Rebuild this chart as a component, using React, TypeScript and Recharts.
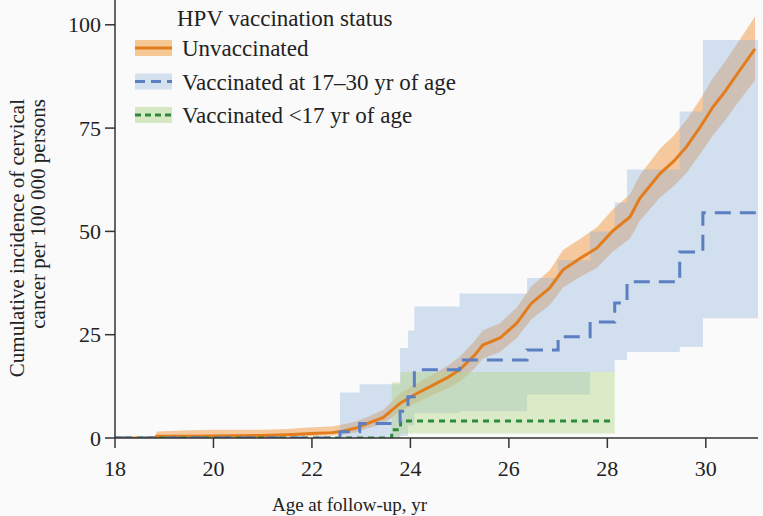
import React from 'react';
import { ComposedChart, Line, Area, XAxis, YAxis, Legend } from 'recharts';

const FONT = '"Liberation Serif", "DejaVu Serif", serif';

// Axis ticks
const xTicks = [18, 20, 22, 24, 26, 28, 30];
const yTicks = [0, 25, 50, 75, 100];

// Unvaccinated: cumulative incidence and 95% CI
const unvacAge = [18.0, 18.8, 18.85, 19.5, 20.0, 20.5, 21.0, 21.5, 22.0, 22.4, 22.6, 22.9, 23.15, 23.45, 23.8, 24.1, 24.46, 24.75, 25.0, 25.3, 25.47, 25.82, 26.16, 26.45, 26.83, 27.1, 27.45, 27.79, 28.1, 28.46, 28.66, 29.07, 29.35, 29.61, 29.9, 30.14, 30.4, 30.69, 31.0];
const unvacCum = [0, 0, 0.4, 0.45, 0.5, 0.55, 0.6, 0.8, 1.1, 1.3, 1.6, 2.4, 3.6, 5.0, 8.5, 10.6, 12.8, 14.6, 16.5, 20.0, 22.5, 24.2, 27.8, 32.5, 36.3, 40.7, 43.5, 46.0, 50.0, 53.5, 58.0, 64.0, 67.0, 70.5, 75.5, 80.0, 84.0, 89.0, 94.2];
const unvacLow = [0, 0, 0.05, 0.1, 0.1, 0.15, 0.2, 0.3, 0.5, 0.6, 0.8, 1.4, 2.4, 3.4, 6.5, 8.4, 10.4, 12.0, 13.6, 16.8, 19.2, 20.8, 24.2, 28.6, 32.2, 36.4, 39.0, 41.2, 45.0, 48.3, 52.6, 58.2, 61.0, 64.2, 69.0, 73.2, 77.0, 81.8, 86.6];
const unvacHigh = [0, 0, 1.6, 1.9, 2.0, 2.0, 2.0, 2.2, 2.6, 2.8, 3.2, 4.0, 5.2, 6.8, 10.8, 13.0, 15.4, 17.4, 19.6, 23.4, 26.0, 27.8, 31.6, 36.6, 40.6, 45.5, 48.2, 51.0, 55.2, 59.0, 63.6, 70.0, 73.2, 77.0, 82.2, 87.0, 91.2, 96.4, 102.0];

// Vaccinated at 17-30 yr of age
const adultAge = [18.0, 22.57, 22.97, 23.79, 23.95, 24.08, 25.0, 26.37, 27.0, 27.65, 28.15, 28.4, 29.47, 29.94, 31.06];
const adultCum = [0, 1.5, 3.5, 6.5, 10.0, 16.5, 18.9, 21.3, 24.5, 28.1, 32.7, 37.8, 45.0, 54.5, 54.5];
const adultBandAge = [22.57, 22.97, 23.79, 23.95, 24.08, 25.0, 26.37, 27.0, 27.65, 28.15, 28.4, 29.47, 29.94, 31.06];
const adultLow = [0, 0, 0.5, 3.0, 6.0, 6.5, 10.5, 10.5, 16.0, 18.9, 20.8, 22.0, 29.0, 29.0];
const adultHigh = [11.0, 13.0, 21.8, 26.0, 31.8, 35.0, 38.7, 43.0, 50.0, 57.0, 65.0, 79.0, 96.3, 96.3];

// Vaccinated <17 yr of age
const teenAge = [18.0, 23.62, 23.8, 28.15];
const teenCum = [0, 2.0, 4.1, 4.1];
const teenBandAge = [23.62, 23.8, 28.15];
const teenLow = [0.3, 1.1, 1.1];
const teenHigh = [13.5, 16.0, 16.0];

const legendTitle = 'HPV vaccination status';
const seriesNames = ['Unvaccinated', 'Vaccinated at 17\u201330 yr of age', 'Vaccinated <17 yr of age'];

const ORANGE = '#e27c1c';
const BLUE = '#5b7fc2';
const GREEN = '#2b8a3c';
const ORANGE_BAND = '#f0a050';
const BLUE_BAND = '#8fb3d9';
const GREEN_BAND = '#b5d68a';
const TEXT = '#222';

const unvacData = unvacAge.map((a, i) => ({ age: a, cum: unvacCum[i], band: [unvacLow[i], unvacHigh[i]] }));
const adultLine = adultAge.map((a, i) => ({ age: a, cum: adultCum[i] }));
const adultBand = adultBandAge.map((a, i) => ({ age: a, band: [adultLow[i], adultHigh[i]] }));
const teenLine = teenAge.map((a, i) => ({ age: a, cum: teenCum[i] }));
const teenBand = teenBandAge.map((a, i) => ({ age: a, band: [teenLow[i], teenHigh[i]] }));

const legendItems = [
  { name: seriesNames[0], color: ORANGE, band: '#f5c894', dash: undefined },
  { name: seriesNames[1], color: BLUE, band: '#d3e1ef', dash: '10 6' },
  { name: seriesNames[2], color: GREEN, band: '#d6e8c2', dash: '6 4' },
];

const LegendContent = () => (
  <svg width={330} height={132} style={{ display: 'block' }}>
    <text x={47} y={26} fontFamily={FONT} fontSize={23} fill={TEXT}>{legendTitle}</text>
    {legendItems.map((it, i) => {
      const cy = 48 + i * 33.5;
      return (
        <g key={it.name}>
          <rect x={5} y={cy - 8} width={37} height={16} fill={it.band} />
          <line x1={5} x2={42} y1={cy} y2={cy} stroke={it.color} strokeWidth={3} strokeDasharray={it.dash} />
          <text x={52} y={cy + 8} fontFamily={FONT} fontSize={23} fill={TEXT}>{it.name}</text>
        </g>
      );
    })}
  </svg>
);

const YLabel = () => (
  <g>
    <text transform="rotate(-90, 24, 99)" x={24} y={99} textAnchor="end" fontFamily={FONT} fontSize={21} fill={TEXT}>
      Cumulative incidence of cervical
    </text>
    <text transform="rotate(-90, 45, 99)" x={45} y={99} textAnchor="end" fontFamily={FONT} fontSize={21} fill={TEXT}>
      cancer per 100 000 persons
    </text>
  </g>
);

const XTick = (props: any) => {
  const { x, y, payload } = props;
  return (
    <text x={x} y={y + 20} textAnchor="middle" fontFamily={FONT} fontSize={22} fill={TEXT}>
      {payload.value}
    </text>
  );
};

const YTick = (props: any) => {
  const { x, y, payload } = props;
  return (
    <text x={x} y={y + 7.5} textAnchor="end" fontFamily={FONT} fontSize={22} fill={TEXT}>
      {payload.value}
    </text>
  );
};

export default function App() {
  return (
    <div style={{ position: 'absolute', left: 0, top: 0, width: 763, height: 516, background: '#fafafa', fontFamily: FONT }}>
      <ComposedChart width={763} height={516} margin={{ top: 0, right: 5, bottom: 0, left: 0 }} style={{ fontFamily: FONT }}>
        <XAxis
          type="number"
          dataKey="age"
          domain={[18, 31.06]}
          allowDataOverflow
          ticks={xTicks}
          interval={0}
          height={78}
          tickSize={10}
          tickMargin={8}
          stroke="#333"
          strokeWidth={1.5}
          tick={<XTick />}
          label={{ value: 'Age at follow-up, yr', position: 'insideBottom', offset: 5, dx: -87, fill: TEXT, fontSize: 19, fontFamily: FONT }}
        />
        <YAxis
          type="number"
          domain={[0, 106]}
          allowDataOverflow
          ticks={yTicks}
          interval={0}
          width={115}
          tickSize={10}
          tickMargin={4}
          stroke="#333"
          strokeWidth={1.5}
          tick={<YTick />}
          label={<YLabel />}
        />
        <Legend layout="vertical" align="center" verticalAlign="middle" content={<LegendContent />} wrapperStyle={{ left: 130, top: 0, width: 330 }} />
        <Area data={unvacData} dataKey="band" type="linear" stroke="none" fill={ORANGE_BAND} fillOpacity={0.55} isAnimationActive={false} legendType="none" />
        <Area data={adultBand} dataKey="band" type="stepAfter" stroke="none" fill={BLUE_BAND} fillOpacity={0.38} isAnimationActive={false} legendType="none" />
        <Area data={teenBand} dataKey="band" type="stepAfter" stroke="none" fill={GREEN_BAND} fillOpacity={0.45} isAnimationActive={false} legendType="none" />
        <Line data={unvacData} dataKey="cum" type="linear" stroke={ORANGE} strokeWidth={3} dot={false} isAnimationActive={false} name={seriesNames[0]} />
        <Line data={teenLine} dataKey="cum" type="stepAfter" stroke={GREEN} strokeWidth={3} strokeDasharray="6 5" dot={false} isAnimationActive={false} name={seriesNames[2]} />
        <Line data={adultLine} dataKey="cum" type="stepAfter" stroke={BLUE} strokeWidth={3} strokeDasharray="16 9" dot={false} isAnimationActive={false} name={seriesNames[1]} />
      </ComposedChart>
    </div>
  );
}
